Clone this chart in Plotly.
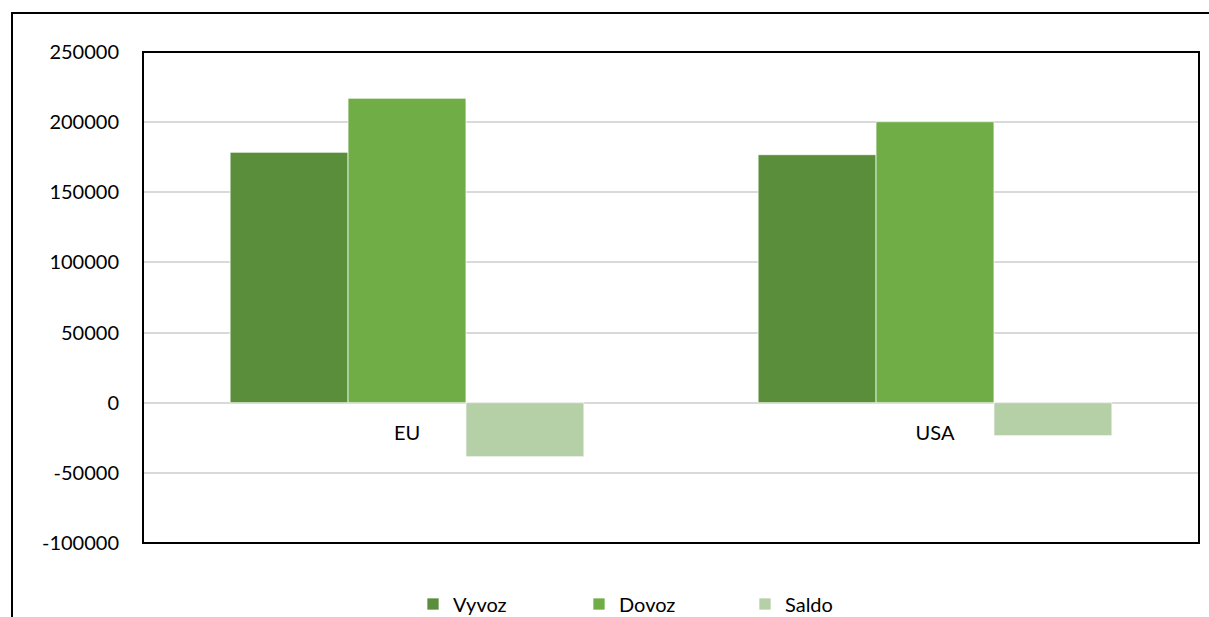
import plotly.graph_objects as go

# Trade balance by partner
categories = ["EU", "USA"]
vyvoz = [178500, 176800]
dovoz = [217000, 200300]
saldo = [-38500, -23500]

y_ticks = [-100000, -50000, 0, 50000, 100000, 150000, 200000, 250000]

FONT = "Lato"
W, H = 1209, 617
ML, MR, MT, MB = 143, 10, 52, 74
PW, PH = W - ML - MR, H - MT - MB

fig = go.Figure()
series = [
    ("Vyvoz", vyvoz, "#5B8E3A"),
    ("Dovoz", dovoz, "#70AD47"),
    ("Saldo", saldo, "#B5CFA7"),
]
for name, vals, color in series:
    fig.add_trace(go.Bar(
        name=name, x=categories, y=vals,
        marker=dict(color=color, line=dict(color="rgba(255,255,255,0.7)", width=1)),
    ))

def px_x(p):
    return (p - ML) / PW

def px_y(p):
    return 1 - (p - MT) / PH

# outer frame around the chart area
fig.add_shape(type="rect", xref="paper", yref="paper",
              x0=px_x(12), x1=px_x(1230), y0=px_y(640), y1=px_y(13),
              line=dict(color="#000000", width=2), layer="above")
# plot area frame
fig.add_shape(type="rect", xref="paper", yref="paper",
              x0=0, x1=1, y0=0, y1=1,
              line=dict(color="#000000", width=2), layer="above")

fig.update_layout(
    width=W, height=H,
    margin=dict(l=ML, r=MR, t=MT, b=MB, autoexpand=False),
    paper_bgcolor="white", plot_bgcolor="white",
    barmode="group", bargap=0.33, bargroupgap=0,
    font=dict(family=FONT, size=20, color="#000000"),
    showlegend=True,
    legend=dict(orientation="h", xref="container", yref="container",
                x=662 / W, xanchor="center",
                y=1 - 604 / H, yanchor="middle",
                entrywidth=121, entrywidthmode="pixels", traceorder="normal",
                font=dict(family=FONT, size=20), itemclick=False),
    xaxis=dict(
        anchor="free", position=2 / 7,
        showline=False, showgrid=False, zeroline=False,
        ticks="outside", ticklen=12, tickcolor="rgba(0,0,0,0)",
        tickfont=dict(family=FONT, size=20),
    ),
    yaxis=dict(
        range=[-100000, 250000], tickvals=y_ticks,
        ticktext=[str(v) for v in y_ticks],
        showgrid=True, gridcolor="#D9D9D9", gridwidth=1.5,
        zeroline=True, zerolinecolor="#D9D9D9", zerolinewidth=1.5,
        showline=False,
        ticks="outside", ticklen=19, tickcolor="rgba(0,0,0,0)",
        tickfont=dict(family=FONT, size=20),
    ),
)

fig.write_html("out.html")
